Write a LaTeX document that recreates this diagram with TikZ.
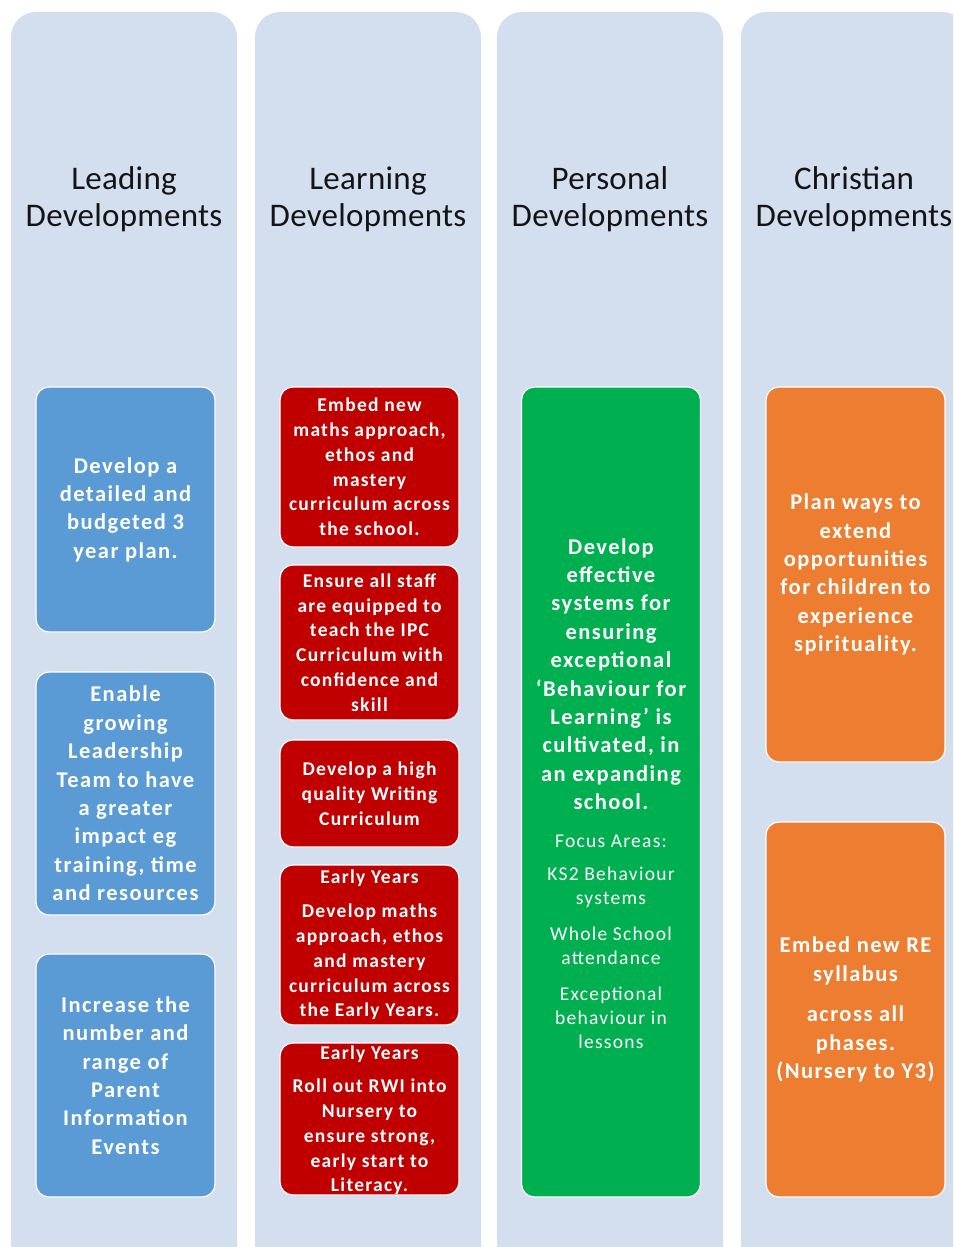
\documentclass[tikz,border=0pt]{standalone}
\usepackage{fontspec}
\setmainfont{Carlito}
\definecolor{colbg}{RGB}{211,222,239}
\definecolor{cblue}{RGB}{91,155,213}
\definecolor{cred}{RGB}{192,0,0}
\definecolor{cgreen}{RGB}{0,176,80}
\definecolor{corange}{RGB}{237,125,49}
\definecolor{htext}{RGB}{20,20,20}
\tikzset{
  column/.style={fill=colbg, rounded corners=25pt, minimum width=226pt, minimum height=1300pt, inner sep=0pt},
  header/.style={font=\fontsize{33}{37}\selectfont\addfontfeature{LetterSpace=0.8}, text=htext, align=center, inner sep=0pt},
  boxbase/.style={rounded corners=13pt, draw=white, line width=1.2pt, inner sep=0pt, minimum width=179pt, text=white, align=center},
  bigtext/.style={font=\bfseries\fontsize{22.5}{28.4}\selectfont\addfontfeature{LetterSpace=6.5}},
  smalltext/.style={font=\bfseries\fontsize{19.5}{24.8}\selectfont\addfontfeature{LetterSpace=6.5}},
  focustext/.style={font=\fontsize{19.5}{24}\selectfont\addfontfeature{LetterSpace=6.5}},
  bluebox/.style={boxbase, bigtext, fill=cblue},
  redbox/.style={boxbase, smalltext, fill=cred},
  greenbox/.style={boxbase, fill=cgreen},
  orangebox/.style={boxbase, bigtext, fill=corange},
  label/.style={text=white, align=center, inner sep=0pt}
}
\begin{document}
\begin{tikzpicture}[x=1pt,y=-1pt]
\useasboundingbox (0,0) rectangle (953,1247);
\clip (0,0) rectangle (953,1247);
\fill[white] (0,0) rectangle (953,1247);

% columns
\node[column] (c1) at (124,662) {};
\node[column] (c2) at (368,662) {};
\node[column] (c3) at (610,662) {};
\node[column] (c4) at (854,662) {};

% headers
\node[header] (h1) at (124,199) {Leading\\Developments};
\node[header] (h2) at (368,199) {Learning\\Developments};
\node[header] (h3) at (610,199) {Personal\\Developments};
\node[header] (h4) at (854,199) {Christian\\Developments};

% leading
\node[bluebox, minimum height=245pt] (b1) at (125.5,509.5)
  {Develop a\\detailed and\\budgeted 3\\year plan.};
\node[bluebox, minimum height=243pt] (b2) at (125.5,793.5)
  {Enable\\growing\\Leadership\\Team to have\\a greater\\impact eg\\training, time\\and resources};
\node[bluebox, minimum height=243pt] (b3) at (125.5,1075.5)
  {Increase the\\number and\\range of\\Parent\\Information\\Events};

% learning
\node[redbox, minimum height=160pt] (r1) at (369.5,467)
  {Embed new\\maths approach,\\ethos and\\mastery\\curriculum across\\the school.};
\node[redbox, minimum height=155pt] (r2) at (369.5,642.5)
  {Ensure all staff\\are equipped to\\teach the IPC\\Curriculum with\\confidence and\\skill};
\node[redbox, minimum height=107pt] (r3) at (369.5,793.5)
  {Develop a high\\quality Writing\\Curriculum};
\node[redbox, minimum height=160pt] (r4) at (369.5,945) {};
\node[label, smalltext] (r4a) at (369.5,878) {Early Years};
\node[label, smalltext] (r4b) at (369.5,962) {Develop maths\\approach, ethos\\and mastery\\curriculum across\\the Early Years.};
\node[redbox, minimum height=152pt] (r5) at (369.5,1119) {};
\node[label, smalltext] (r5a) at (369.5,1054) {Early Years};
\node[label, smalltext] (r5b) at (369.5,1137) {Roll out RWI into\\Nursery to\\ensure strong,\\early start to\\Literacy.};

% personal
\node[greenbox, minimum height=810pt] (g1) at (611,792) {};
\node[label, bigtext] (g1a) at (611,674) {Develop\\effective\\systems for\\ensuring\\exceptional\\`Behaviour for\\Learning' is\\cultivated, in\\an expanding\\school.};
\node[label, focustext] (g1b) at (611,841) {Focus Areas:};
\node[label, focustext] (g1c) at (611,887) {KS2 Behaviour\\systems};
\node[label, focustext] (g1d) at (611,946) {Whole School\\attendance};
\node[label, focustext] (g1e) at (611,1018) {Exceptional\\behaviour in\\lessons};

% christian
\node[orangebox, minimum height=375pt] (o1) at (855.5,574.5)
  {Plan ways to\\extend\\opportunities\\for children to\\experience\\spirituality.};
\node[orangebox, minimum height=375pt] (o2) at (855.5,1009.5) {};
\node[label, bigtext] (o2a) at (855.5,961) {Embed new RE\\syllabus};
\node[label, bigtext] (o2b) at (855.5,1044) {across all\\phases.\\(Nursery to Y3)};
\end{tikzpicture}
\end{document}
